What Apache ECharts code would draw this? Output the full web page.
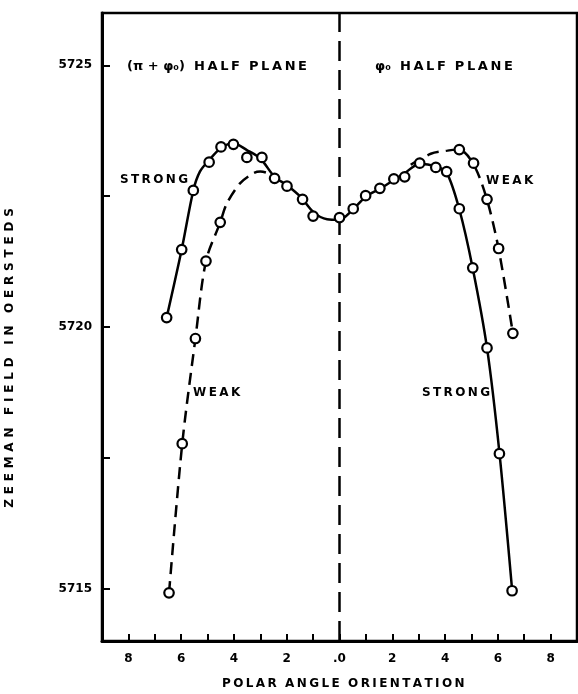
<!DOCTYPE html>
<html>
<head>
<meta charset="utf-8">
<script src="https://cdn.jsdelivr.net/npm/echarts@6/dist/echarts.min.js"></script>
<style>
html,body{margin:0;padding:0;background:#fff;}
#chart{width:578px;height:694px;}
</style>
</head>
<body>
<div id="chart"></div>
<script>
// ---- data (x: negative = (pi+phi0) half plane, positive = phi0 half plane) ----
const strongX = [-6.55,-5.98,-5.54,-4.94,-4.49,-4.02,-3.51,-2.94,-2.46,-1.99,-1.40,-1.00,0,
                 0.52,0.99,1.53,2.06,2.47,3.04,3.65,4.06,4.54,5.05,5.59,6.06,6.54];
const strongY = [5720.18,5721.48,5722.61,5723.15,5723.44,5723.49,5723.24,5723.24,5722.84,5722.69,5722.44,5722.12,5722.09,
                 5722.26,5722.51,5722.65,5722.83,5722.87,5723.13,5723.05,5722.97,5722.26,5721.13,5719.60,5717.58,5714.96];
const weakX = [-6.46,-5.96,-5.46,-5.06,-4.52,  4.54,5.08,5.59,6.03,6.57];
const weakY = [5714.92,5717.77,5719.78,5721.26,5722.00,  5723.39,5723.13,5722.44,5721.50,5719.88];

// fitted curves as drawn in the picture
const strongCurveX = [-6.55,-5.98,-5.54,-5.29,-4.94,-4.49,-4.02,-3.51,-3.00,-2.46,-1.99,-1.48,-0.98,-0.47,0,
                      0.52,0.99,1.53,2.06,2.47,3.04,3.65,4.06,4.54,5.05,5.59,6.06,6.54];
const strongCurveY = [5720.18,5721.48,5722.61,5722.97,5723.19,5723.42,5723.51,5723.38,5723.22,5722.87,5722.71,5722.49,5722.19,5722.06,5722.05,
                      5722.25,5722.49,5722.64,5722.81,5722.94,5723.12,5723.07,5722.95,5722.25,5721.12,5719.60,5717.60,5714.98];
const weakLeftCurveX = [-6.46,-5.96,-5.46,-5.06,-4.52,-4.27,-3.76,-3.26,-3.00,-2.62,-2.46];
const weakLeftCurveY = [5714.92,5717.77,5719.78,5721.26,5722.00,5722.36,5722.75,5722.94,5722.97,5722.92,5722.85];
const weakRightCurveX = [2.70,3.46,4.09,4.54,5.08,5.59,6.03,6.57];
const weakRightCurveY = [5723.10,5723.31,5723.37,5723.39,5723.11,5722.43,5721.49,5719.88];
const divideX = [0, 0];
const divideY = [5714, 5726];

const xTicks = [-8,-7,-6,-5,-4,-3,-2,-1,0,1,2,3,4,5,6,7,8];
const xLabels = [-8,-6,-4,-2,0,2,4,6,8];
const yTicks = [5715,5717.5,5720,5722.5,5725];
const yLabels = [5715,5720,5725];

const zip = (xs, ys) => xs.map((x, i) => [x, ys[i]]);
const sp = (s, sep) => s.split('').join(sep || '\u2009');

const FONT = 'DejaVu Sans';
const chart = echarts.init(document.getElementById('chart'), null, {renderer: 'canvas'});

const txt = (text, left, top, size) => ({
  type: 'text', left: left, top: top,
  style: {text: text, fill: '#000', font: 'bold ' + (size || 12) + 'px "' + FONT + '"'}
});

chart.setOption({
  animation: false,
  backgroundColor: '#fff',
  grid: {left: 102, right: 1, top: 13, bottom: 53, show: true, borderColor: '#000', borderWidth: 2.5, containLabel: false},
  xAxis: {
    type: 'value', min: -9, max: 9,
    axisLine: {show: true, onZero: false, lineStyle: {color: '#000', width: 3}},
    axisTick: {show: true, inside: true, length: 7, customValues: xTicks, lineStyle: {color: '#000', width: 2}},
    axisLabel: {show: true, customValues: xLabels, margin: 12, color: '#000',
      fontFamily: FONT, fontWeight: 'bold', fontSize: 12,
      formatter: v => (v === 0 ? '.0' : String(Math.abs(v)))},
    splitLine: {show: false}
  },
  yAxis: {
    type: 'value', min: 5714, max: 5726,
    axisLine: {show: true, onZero: false, lineStyle: {color: '#000', width: 3}},
    axisTick: {show: true, inside: true, length: 8, customValues: yTicks, lineStyle: {color: '#000', width: 2}},
    axisLabel: {show: true, customValues: yLabels, margin: 10, color: '#000',
      fontFamily: FONT, fontWeight: 'bold', fontSize: 12, formatter: v => String(v)},
    splitLine: {show: false}
  },
  series: [
    {
      name: 'divide', type: 'line', data: zip(divideX, divideY), symbol: 'none',
      lineStyle: {color: '#000', width: 2.5, type: [20, 9]}, z: 1
    },
    {
      name: 'strong curve', type: 'line', data: zip(strongCurveX, strongCurveY), smooth: 0.3,
      symbol: 'none', lineStyle: {color: '#000', width: 2.5}, z: 2
    },
    {
      name: 'weak curve left', type: 'line', data: zip(weakLeftCurveX, weakLeftCurveY), smooth: 0.3,
      symbol: 'none', lineStyle: {color: '#000', width: 2.5, type: [12, 7]}, z: 2
    },
    {
      name: 'weak curve right', type: 'line', data: zip(weakRightCurveX, weakRightCurveY), smooth: 0.3,
      symbol: 'none', lineStyle: {color: '#000', width: 2.5, type: [12, 7]}, z: 2
    },
    {
      name: 'strong', type: 'scatter', data: zip(strongX, strongY), symbol: 'circle', symbolSize: 9.5,
      itemStyle: {color: '#fff', borderColor: '#000', borderWidth: 2.2, opacity: 1}, z: 5
    },
    {
      name: 'weak', type: 'scatter', data: zip(weakX, weakY), symbol: 'circle', symbolSize: 9.5,
      itemStyle: {color: '#fff', borderColor: '#000', borderWidth: 2.2, opacity: 1}, z: 5
    }
  ],
  graphic: [
    txt('(π + φ₀)  ' + sp('HALF') + '  ' + sp('PLANE'), 127, 60, 13),
    txt('φ₀  ' + sp('HALF') + '  ' + sp('PLANE'), 375, 60, 13),
    txt(sp('STRONG'), 120, 174),
    txt(sp('WEAK'), 193, 387),
    txt(sp('WEAK'), 486, 175),
    txt(sp('STRONG'), 422, 387),
    txt(sp('POLAR') + '  ' + sp('ANGLE') + '  ' + sp('ORIENTATION'), 222, 678),
    {
      type: 'text', x: 10, y: 358, rotation: Math.PI / 2,
      style: {text: sp('ZEEMAN', '\u2009\u2009') + '   ' + sp('FIELD', '\u2009\u2009') + '   ' + sp('IN', '\u2009\u2009') + '   ' + sp('OERSTEDS', '\u2009\u2009'),
        fill: '#000', font: 'bold 12px "' + FONT + '"', align: 'center', verticalAlign: 'middle'}
    }
  ]
});
</script>
</body>
</html>
